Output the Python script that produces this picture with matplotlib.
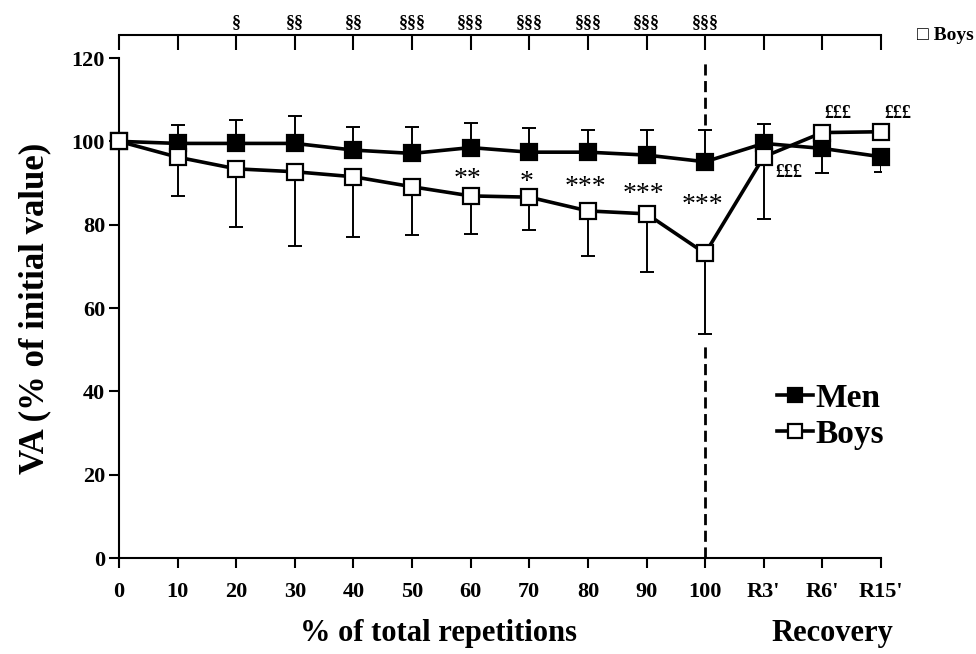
import matplotlib
matplotlib.use("Agg")
import matplotlib.pyplot as plt
import numpy as np

labels = ["0", "10", "20", "30", "40", "50", "60", "70", "80", "90", "100", "R3'", "R6'", "R15'"]
men = [100, 99.5, 99.5, 99.5, 97.9, 97.1, 98.5, 97.4, 97.4, 96.7, 95.1, 99.5, 98.3, 96.3]
men_up = [0, 4.4, 5.5, 6.5, 5.6, 6.4, 6.0, 5.9, 5.3, 6.0, 7.6, 4.7, 0, 0]
men_low = [0, 0, 0, 0, 0, 0, 0, 0, 0, 0, 0, 0, 5.8, 3.6]
boys = [100, 96.2, 93.4, 92.7, 91.5, 89.1, 86.9, 86.6, 83.3, 82.6, 73.1, 96.3, 102.1, 102.3]
boys_low = [0, 9.2, 13.9, 17.8, 14.4, 11.6, 9.2, 7.9, 10.8, 13.9, 19.4, 15.0, 0, 0]

stars = ["**", "*", "***", "***", "***"]
star_idx = [6, 7, 8, 9, 10]
star_y = [89.3, 88.6, 87.4, 85.6, 83.0]
sect = ["§", "§§", "§§", "§§§", "§§§", "§§§", "§§§", "§§§", "§§§"]
sect_idx = [2, 3, 4, 5, 6, 7, 8, 9, 10]
pound_x = [11.43, 12.27, 13.29]
pound_y = [92.6, 106.8, 106.8]

serif = ["Liberation Serif", "DejaVu Serif"]
plt.rcParams['font.family'] = serif

fig = plt.figure(figsize=(9.76, 6.54), dpi=100)
ax = fig.add_axes([119/976, 1-558/654, (881-119)/976, (558-58)/654])
x = np.arange(len(labels))

ax.vlines(10, 104, 119.5, colors='black', linestyles=(0, (4, 2)), linewidth=2.0, zorder=1)
ax.vlines(10, 0, 51, colors='black', linestyles=(0, (4, 2)), linewidth=2.0, zorder=1)

ax.errorbar(x, men, yerr=[men_low, men_up], fmt='none', ecolor='black',
            elinewidth=1.4, capsize=5, capthick=1.4, zorder=2)
ax.errorbar(x, boys, yerr=[boys_low, np.zeros(len(boys))], fmt='none', ecolor='black',
            elinewidth=1.4, capsize=5, capthick=1.4, zorder=2)
ax.plot(x, men, '-s', color='black', linewidth=2.6, markersize=12,
        markerfacecolor='black', markeredgecolor='black', markeredgewidth=1.6,
        label='Men', zorder=3, clip_on=False)
ax.plot(x, boys, '-s', color='black', linewidth=2.6, markersize=12,
        markerfacecolor='white', markeredgecolor='black', markeredgewidth=1.6,
        label='Boys', zorder=4, clip_on=False)

ax.set_xlim(0, 13)
ax.set_ylim(0, 120)
ax.set_yticks(np.arange(0, 121, 20))
ax.set_xticks(x)
ax.set_xticklabels(labels)
for s in ['top', 'right']:
    ax.spines[s].set_visible(False)
for s in ['left', 'bottom']:
    ax.spines[s].set_linewidth(1.5)
ax.tick_params(axis='both', direction='out', length=7, width=1.5, labelsize=16)
ax.tick_params(axis='x', pad=10)
ax.tick_params(axis='y', pad=3)
for t in ax.get_xticklabels() + ax.get_yticklabels():
    t.set_fontweight('bold')

ax.set_ylabel("VA (% of initial value)", fontsize=25, fontweight='bold', labelpad=15)
fig.text(438/976, 1-633/654, "% of total repetitions", fontsize=22, fontweight='bold',
         ha='center', va='center')
fig.text(832/976, 1-633/654, "Recovery", fontsize=22, fontweight='bold',
         ha='center', va='center')

for s, i, yv in zip(stars, star_idx, star_y):
    ax.text(i - 0.05, yv, s, fontsize=20, ha='center', va='baseline')
for px, py in zip(pound_x, pound_y):
    ax.text(px, py, "£££", fontsize=13, fontweight='bold', ha='center', va='center')

# top bracket axis
axt = ax.twiny()
axt.set_xlim(0, 13)
axt.set_xticks(x)
axt.set_xticklabels([])
for s in ['left', 'right', 'bottom']:
    axt.spines[s].set_visible(False)
axt.spines['top'].set_position(('outward', 16.5))
axt.spines['top'].set_linewidth(1.5)
axt.tick_params(axis='x', direction='in', length=11, width=1.5, top=True, labeltop=False)

for s, i in zip(sect, sect_idx):
    ax.text(i, 128.6, s, fontsize=13, fontweight='bold', ha='center', va='center', clip_on=False)

fig.text(917/976, 1-35/654, "□ Boys", fontsize=14, fontweight='bold', ha='left', va='center',
         family=["Liberation Serif", "DejaVu Sans"])

leg = ax.legend(loc='upper left', bbox_to_anchor=(760/976, 1-366/654), bbox_transform=fig.transFigure,
                frameon=False, prop={'family': serif, 'weight': 'bold', 'size': 24},
                handlelength=1.1, handletextpad=0.05, labelspacing=0.15, borderpad=0,
                markerscale=0.85)

fig.savefig("out.png", dpi=100)
